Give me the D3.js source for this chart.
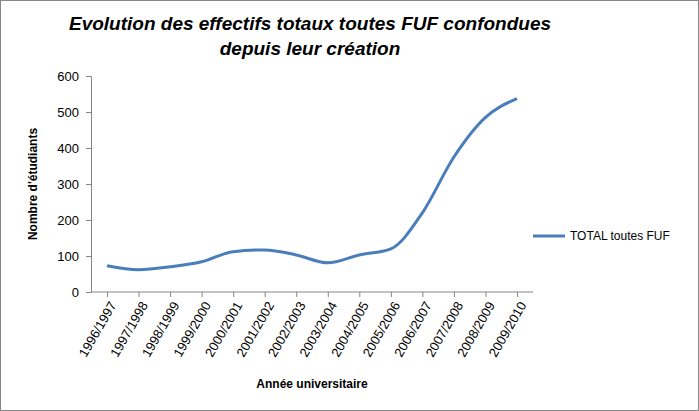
<!DOCTYPE html>
<html><head><meta charset="UTF-8">
<script src="https://cdn.jsdelivr.net/npm/d3@7"></script>
<style>body{margin:0;background:#fff;font-family:"Liberation Sans",Arial,sans-serif;}</style>
</head><body>
<svg id="chart" width="699" height="411"></svg>
<script>
const years = ["1996/1997","1997/1998","1998/1999","1999/2000","2000/2001","2001/2002","2002/2003","2003/2004","2004/2005","2005/2006","2006/2007","2007/2008","2008/2009","2009/2010"];
const totals = [73,62,70,84,112,117,103,81,103,120,220,375,485,537];
const yTicks = [0,100,200,300,400,500,600];

const svg = d3.select("#chart");
svg.append("rect").attr("x",0.5).attr("y",0.5).attr("width",698).attr("height",410)
  .attr("fill","#fff").attr("stroke","#888");

const x = d3.scalePoint().domain(years).range([107,517]);
const y = d3.scaleLinear().domain([0,600]).range([292,76]);

const yAxis = svg.append("g").attr("transform","translate(91,0)")
  .call(d3.axisLeft(y).tickValues(yTicks).tickSize(5));
yAxis.select(".domain").attr("stroke","#868686");
yAxis.selectAll("line").attr("stroke","#868686");
yAxis.selectAll("text").attr("font-size",13).attr("fill","#000").attr("dx",-4);

const xAxis = svg.append("g").attr("transform","translate(0,292)")
  .call(d3.axisBottom(x).tickSize(5).tickSizeOuter(0));
xAxis.select(".domain").attr("stroke","#868686").attr("d","M91,0H533");
xAxis.selectAll("line").attr("stroke","#868686");
xAxis.selectAll("text").attr("font-size",13).attr("fill","#000")
  .attr("text-anchor","end").attr("transform","rotate(-60)").attr("dx","-0.5em").attr("dy","0.5em");

svg.append("path").datum(totals)
  .attr("fill","none").attr("stroke","#4a7ebb").attr("stroke-width",3)
  .attr("d",d3.line().curve(d3.curveMonotoneX).x((d,i)=>x(years[i])).y(d=>y(d)));

svg.append("text").attr("x",310).attr("y",30).attr("text-anchor","middle")
  .attr("font-size",19).attr("font-style","italic").attr("font-weight","bold")
  .text("Evolution des effectifs totaux toutes FUF confondues");
svg.append("text").attr("x",310).attr("y",55).attr("text-anchor","middle")
  .attr("font-size",19).attr("font-style","italic").attr("font-weight","bold")
  .text("depuis leur création");

svg.append("text").attr("transform","translate(37,184) rotate(-90)").attr("text-anchor","middle")
  .attr("font-size",12).attr("font-weight","bold").text("Nombre d'étudiants");
svg.append("text").attr("x",312).attr("y",388).attr("text-anchor","middle")
  .attr("font-size",12).attr("font-weight","bold").text("Année universitaire");

svg.append("line").attr("x1",533).attr("x2",565).attr("y1",236).attr("y2",236)
  .attr("stroke","#4a7ebb").attr("stroke-width",3);
svg.append("text").attr("x",570).attr("y",240).attr("font-size",12).text("TOTAL toutes FUF");
</script>
</body></html>
